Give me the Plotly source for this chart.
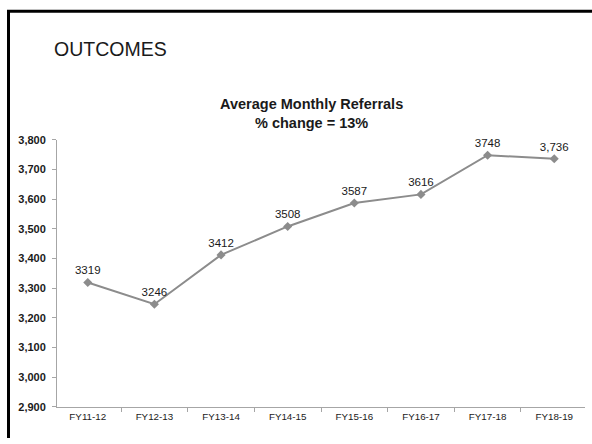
import plotly.graph_objects as go

categories = ["FY11-12", "FY12-13", "FY13-14", "FY14-15", "FY15-16", "FY16-17", "FY17-18", "FY18-19"]
referrals = [3319, 3246, 3412, 3508, 3587, 3616, 3748, 3736]
point_labels = ["3319", "3246", "3412", "3508", "3587", "3616", "3748", "3,736"]
y_ticks = [2900, 3000, 3100, 3200, 3300, 3400, 3500, 3600, 3700, 3800]
y_tick_labels = ["2,900", "3,000", "3,100", "3,200", "3,300", "3,400", "3,500", "3,600", "3,700", "3,800"]

W, H = 592, 444
FONT = "Liberation Sans, Arial, sans-serif"

fig = go.Figure()
fig.add_trace(go.Scatter(
    x=categories, y=referrals, mode="lines+markers+text",
    text=point_labels, textposition="top center",
    textfont=dict(family=FONT, size=11.5, color="#1a1a1a"),
    line=dict(color="#8c8c8c", width=2),
    marker=dict(symbol="diamond", size=7, color="#8c8c8c"),
    cliponaxis=False, showlegend=False, hoverinfo="skip",
))

fig.update_layout(
    width=W, height=H,
    margin=dict(l=0, r=0, t=0, b=0),
    paper_bgcolor="white", plot_bgcolor="white",
    font=dict(family=FONT, color="#1a1a1a"),
    xaxis=dict(
        domain=[57 / W, 585 / W],
        type="category",
        showline=True, linecolor="#a6a6a6", linewidth=1,
        ticks="outside", ticklen=4, tickcolor="#a6a6a6", tickson="boundaries",
        showgrid=False, zeroline=False,
        tickfont=dict(family=FONT, size=9.8, color="#1a1a1a"),
        fixedrange=True,
    ),
    yaxis=dict(
        domain=[(H - 412) / H, (H - 137.5) / H],
        range=[2900, 3800],
        tickvals=y_ticks, ticktext=y_tick_labels,
        showline=True, linecolor="#a6a6a6", linewidth=1,
        ticks="outside", ticklen=4, tickcolor="#a6a6a6",
        showgrid=False, zeroline=False,
        tickfont=dict(family=FONT, size=11, color="#1a1a1a", weight="bold"),
        ticklabelstandoff=4,
        fixedrange=True,
    ),
    annotations=[
        dict(text="OUTCOMES", x=52 / W, y=(H - 44) / H, xref="paper", yref="paper",
             xanchor="left", yanchor="middle", showarrow=False,
             font=dict(family=FONT, size=19.5, color="#1a1a1a")),
        dict(text="<b>Average Monthly Referrals<br>% change = 13%</b>", x=312 / W, y=(H - 110) / H,
             xref="paper", yref="paper", xanchor="center", yanchor="middle", showarrow=False,
             font=dict(family=FONT, size=14.5, color="#1a1a1a")),
    ],
    shapes=[
        dict(type="line", xref="paper", yref="paper", x0=7 / W, x1=1, y0=(H - 5.5) / H, y1=(H - 5.5) / H,
             line=dict(color="black", width=3)),
        dict(type="line", xref="paper", yref="paper", x0=8.5 / W, x1=8.5 / W, y0=0, y1=(H - 4) / H,
             line=dict(color="black", width=3)),
    ],
)

fig.write_html(
    "out.html",
    config={"displayModeBar": False, "staticPlot": True},
    post_script="document.body.style.margin='0';document.body.style.overflow='hidden';",
)
